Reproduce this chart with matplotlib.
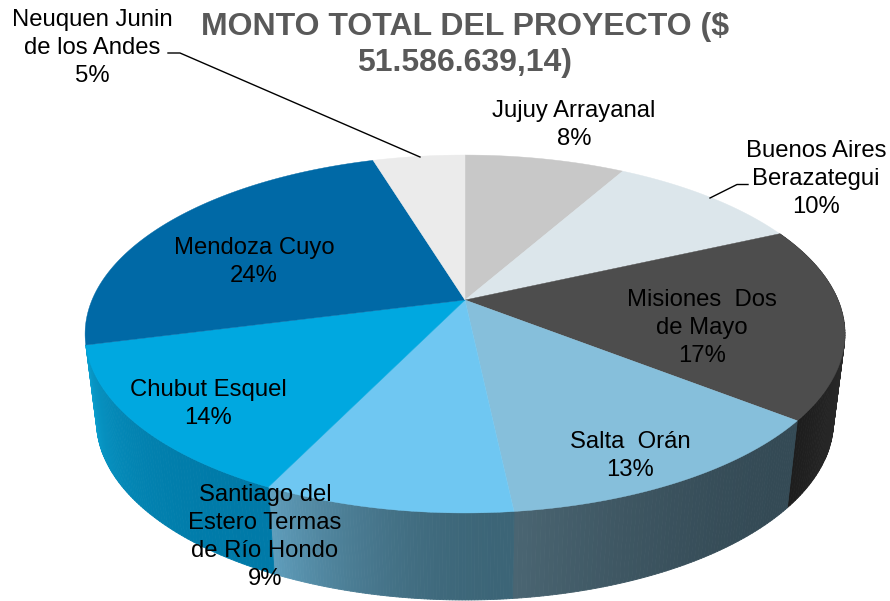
import numpy as np
import matplotlib
matplotlib.use('Agg')
import matplotlib.pyplot as plt
from matplotlib.collections import PolyCollection
from matplotlib.colors import to_rgb

plt.rcParams['font.family'] = ['Liberation Sans', 'DejaVu Sans']

# slices, clockwise from 12 o'clock
names = ['Jujuy Arrayanal', 'Buenos Aires\nBerazategui', 'Misiones  Dos\nde Mayo', 'Salta  Orán',
         'Santiago del\nEstero Termas\nde Río Hondo', 'Chubut Esquel', 'Mendoza Cuyo',
         'Neuquen Junin\nde los Andes']
shares = [8.2, 10.0, 17.4, 12.7, 8.9, 13.8, 24.3, 4.7]
percent_labels = ['8%', '10%', '17%', '13%', '9%', '14%', '24%', '5%']

top_colors = ['#c8c8c8', '#dce6eb', '#4d4d4d', '#86bfdb', '#6fc7f2', '#00a8e0', '#0069a6', '#ebebeb']
# side wall gradient, (start of slice, end of slice) going clockwise, None = wall not seen
side_colors = [None, None, ('#333333', '#1d1d1d'),
               ('#344a55', '#4a6572'), ('#3c6577', '#5f9dbb'), ('#007aa8', '#0a9dcc'),
               None, None]
label_pos = [(574, 125), (816, 179), (702, 328), (630, 456), (265, 537), (208, 404), (254, 262), (92, 48)]

title = 'MONTO TOTAL DEL PROYECTO ($\n51.586.639,14)'

# perspective of the disc, in pixels
cx, cy = 465, 300
R, A, k = 373, 172.5, 0.19
depth, shrink = 87, 0.97


def project(theta):
    x, y = np.sin(theta), np.cos(theta)
    w = 1 + k * y
    return cx + R * x / w, cy - A * y / w


fig = plt.figure(figsize=(8.9, 6.01), dpi=100)
ax = fig.add_axes([0, 0, 1, 1])
ax.set_xlim(0, 890)
ax.set_ylim(601, 0)
ax.axis('off')

edges = np.concatenate([[0], np.cumsum(shares)]) / sum(shares) * 2 * np.pi

# side wall first, the top covers what should not show
for i in range(len(shares)):
    if side_colors[i] is None:
        continue
    t = np.linspace(edges[i], edges[i + 1], 80)
    sx, sy = project(t)
    bx = cx + (sx - cx) * shrink
    by = sy + depth
    c0, c1 = np.array(to_rgb(side_colors[i][0])), np.array(to_rgb(side_colors[i][1]))
    quads, cols = [], []
    for j in range(len(t) - 1):
        quads.append([(sx[j], sy[j]), (sx[j + 1], sy[j + 1]), (bx[j + 1], by[j + 1]), (bx[j], by[j])])
        cols.append(c0 + (c1 - c0) * (j / (len(t) - 2)) ** 2)
    ax.add_collection(PolyCollection(quads, facecolors=cols, edgecolors=cols, linewidths=0.6, zorder=1))

for i in range(len(shares)):
    t = np.linspace(edges[i], edges[i + 1], 120)
    sx, sy = project(t)
    ax.fill(np.r_[cx, sx], np.r_[cy, sy], color=top_colors[i], lw=0.3, zorder=2)

for name, pct, (lx, ly) in zip(names, percent_labels, label_pos):
    ax.text(lx, ly, name + '\n' + pct, ha='center', va='center', fontsize=17.2,
            linespacing=1.34, color='black', zorder=4)

# leader lines
ax.plot([168, 180, 420], [53, 53, 157], color='black', lw=1, zorder=3)
ax.plot([748, 737, 710], [184.5, 184.5, 198], color='black', lw=1, zorder=3)

ax.text(465, 45, title, ha='center', va='center', fontsize=23, fontweight='bold',
        color='#595959', linespacing=1.23, zorder=4)

fig.savefig('out.png', dpi=100)
